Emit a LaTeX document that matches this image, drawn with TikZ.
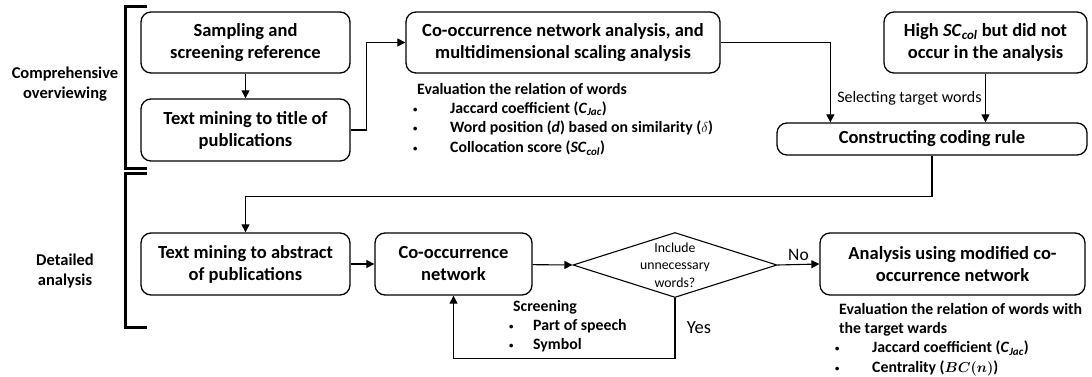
\documentclass[tikz,border=0pt]{standalone}
\usepackage{fontspec}
\setmainfont{Carlito}
\usepackage{graphicx}
\usepackage{bm}
\usepackage{tikz}
\usetikzlibrary{shapes.geometric}
\usetikzlibrary{arrows.meta}
\usetikzlibrary{positioning}

\newcommand{\bdot}{\hspace*{-4pt}\raisebox{1pt}{\scalebox{0.55}{\textbullet}}}
\newcommand{\itm}[1]{\makebox[33pt][l]{\bdot}#1}
\newcommand{\sitm}[1]{\makebox[20pt][l]{\bdot}#1}
\newcommand{\Cjac}{(\textit{C}\textsubscript{\textit{Jac}})}

\begin{document}
\begin{tikzpicture}[x=1pt,y=-1pt,
          box/.style={draw,rounded corners=10pt,line width=1.3pt,align=center,inner sep=0pt,
            font=\bfseries\fontsize{18.5}{22}\selectfont},
          note/.style={align=left,inner sep=0pt,anchor=north west,
            font=\bfseries\fontsize{15.8}{19.3}\selectfont},
          arr/.style={-{Triangle[length=8pt,width=8pt]},line width=1.1pt},
          brace/.style={line width=3pt},
          side/.style={align=center,font=\bfseries\fontsize{16.5}{20}\selectfont}]
          \useasboundingbox (0,0) rectangle (1092,377);
          % left brackets
          \draw[brace] (147,7) -| (125,168) -- (147,168);
          \draw[brace] (147,173) -| (125,327) -- (147,327);
          \node[side] (comp) at (65,84) {Comprehensive\\overviewing};
          \node[side] (deta) at (65,271) {Detailed\\analysis};
          % upper part
          \node[box,minimum width=209pt,minimum height=61pt] (samp) at (245.5,42.5) {Sampling and\\screening reference};
          \node[box,minimum width=209pt,minimum height=62pt] (titl) at (245.5,130) {Text mining to title of\\publications};
          \node[box,minimum width=314pt,minimum height=61pt] (cooc) at (563,42.5) {Co-occurrence network analysis, and\\multidimensional scaling analysis};
          \node[box,minimum width=203pt,minimum height=61pt] (high) at (985.5,42.5) {High \textit{SC}\textsubscript{\textit{col}} but did not\\occur in the analysis};
          \node[box,minimum width=310pt,minimum height=32pt] (rule) at (932,139) {Constructing coding rule};
          \node[note] (eval) at (417,83) {Evaluation the relation of words\\
            \itm{Jaccard coefficient \Cjac}\\
            \itm{Word position (\textit{d}) based on similarity ($\delta$)}\\
            \itm{Collocation score (\textit{SC}\textsubscript{\textit{col}})}};
          % lower part
          \node[box,minimum width=209pt,minimum height=62pt] (abst) at (245.5,264) {Text mining to abstract\\of publications};
          \node[box,minimum width=157pt,minimum height=62pt] (net) at (453.5,264) {Co-occurrence\\network};
          \node[draw,diamond,line width=1.1pt,minimum width=204pt,minimum height=65pt,inner sep=0pt] (dec) at (675,265) {};
          \node[align=center,font=\fontsize{13.8}{17.5}\selectfont] (dect) at (dec) {Include\\unnecessary\\words?};
          \node[box,minimum width=265pt,minimum height=62pt] (anal) at (952.5,264) {Analysis using modified co-\\occurrence network};
          \node[note] (scr) at (513,300) {Screening\\\sitm{Part of speech}\\\sitm{Symbol}};
          \node[note] (eval2) at (839,303) {Evaluation the relation of words with\\the target wards\\
            \itm{Jaccard coefficient \Cjac}\\
            \itm{Centrality ($\bm{BC(n)}$)}};
          % connectors
          \draw[arr] (samp) -- (titl);
          \draw[arr] (titl.east) -- ++(16,0) |- (cooc.west);
          \draw[arr] (cooc.east) -| ([xshift=54pt]rule.north west);
          \draw[arr] (high) -- node[left,font=\fontsize{16}{18}\selectfont]{Selecting target words} (high |- rule.north);
          \draw[arr] (rule.south) -- ++(0,41) -| (abst.north);
          \draw[arr] (abst) -- (net);
          \draw[arr] (net) -- (dec.west);
          \draw[arr] (dec.east) -- node[above,font=\fontsize{17.5}{20}\selectfont]{No} (anal.west);
          \draw[arr] (dec.south) -- node[right=8pt,font=\fontsize{18.5}{20}\selectfont]{Yes} ++(0,60) -| (net.south);
        \end{tikzpicture}
\end{document}
